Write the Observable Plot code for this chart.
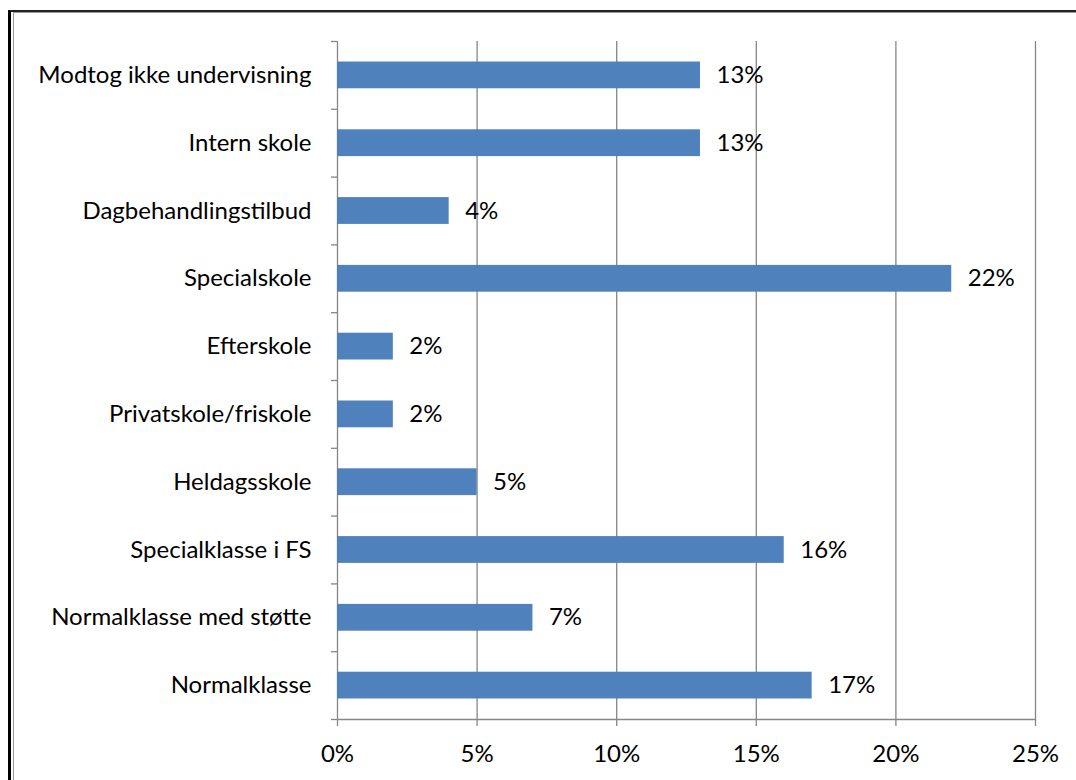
<!DOCTYPE html>
<html><head><meta charset="utf-8">
<script src="https://cdn.jsdelivr.net/npm/d3@7"></script>
<script src="https://cdn.jsdelivr.net/npm/@observablehq/plot@0.6"></script>
<style>
body{margin:0;background:#fff}
#wrap{position:relative;width:1076px;height:780px;overflow:hidden}
#chart{position:absolute;left:0;top:0}
.f1{position:absolute;left:8px;top:10px;right:-10px;bottom:-10px;border-top:2px solid #222;border-left:3px solid #000}
.f2{position:absolute;left:13px;top:12px;right:-10px;bottom:-10px;border-top:1px solid #9a9a9a;border-left:1px solid #9a9a9a}
</style></head><body>
<div id="wrap"><div id="chart"></div><div class="f1"></div><div class="f2"></div></div>
<script>
const categories = [
  "Modtog ikke undervisning",
  "Intern skole",
  "Dagbehandlingstilbud",
  "Specialskole",
  "Efterskole",
  "Privatskole/friskole",
  "Heldagsskole",
  "Specialklasse i FS",
  "Normalklasse med støtte",
  "Normalklasse"
];
const values = [13, 13, 4, 22, 2, 2, 5, 16, 7, 17];
const xTicks = [0, 5, 10, 15, 20, 25];

const data = categories.map((c, i) => ({category: c, value: values[i]}));
const gridColor = "#868686";
const barColor = "#4F81BD";
const W = 1076, H = 780, mL = 337, mR = 41, mT = 41, mB = 61;
const step = (H - mT - mB) / categories.length;

const chart = Plot.plot({
  width: W, height: H,
  marginLeft: mL, marginRight: mR, marginTop: mT, marginBottom: mB,
  style: {fontFamily: "Lato, sans-serif", fontSize: "24px", color: "#000", background: "transparent", overflow: "visible"},
  x: {domain: [0, 25]},
  y: {type: "band", domain: categories, padding: 0, round: false},
  marks: [
    Plot.ruleX(xTicks, {stroke: gridColor, strokeWidth: 1.3}),
    Plot.barX(data, {x: "value", y: "category", fill: barColor, insetTop: 20.5, insetBottom: 20.5}),
    Plot.ruleY(categories, {y: d => d, x1: 0, x2: 0, insetLeft: -6, dy: -step / 2, stroke: gridColor, strokeWidth: 1.3}),
    Plot.ruleY([categories[categories.length - 1]], {dy: step / 2, stroke: gridColor, strokeWidth: 1.3}),
    Plot.ruleY([categories[categories.length - 1]], {y: d => d, x1: 0, x2: 0, insetLeft: -6, dy: step / 2, stroke: gridColor, strokeWidth: 1.3}),
    Plot.text(data, {x: "value", y: "category", text: d => d.value + "%", textAnchor: "start", dx: 16, fill: "#000"}),
    Plot.axisY({tickSize: 0, tickPadding: 26, fill: "#000", label: null}),
    Plot.axisX({ticks: xTicks, tickFormat: d => d + "%", tickSize: 7, tickPadding: 18, stroke: gridColor, strokeWidth: 1.3, fill: "#000", label: null})
  ]
});
document.getElementById("chart").appendChild(chart);
</script>
</body></html>
